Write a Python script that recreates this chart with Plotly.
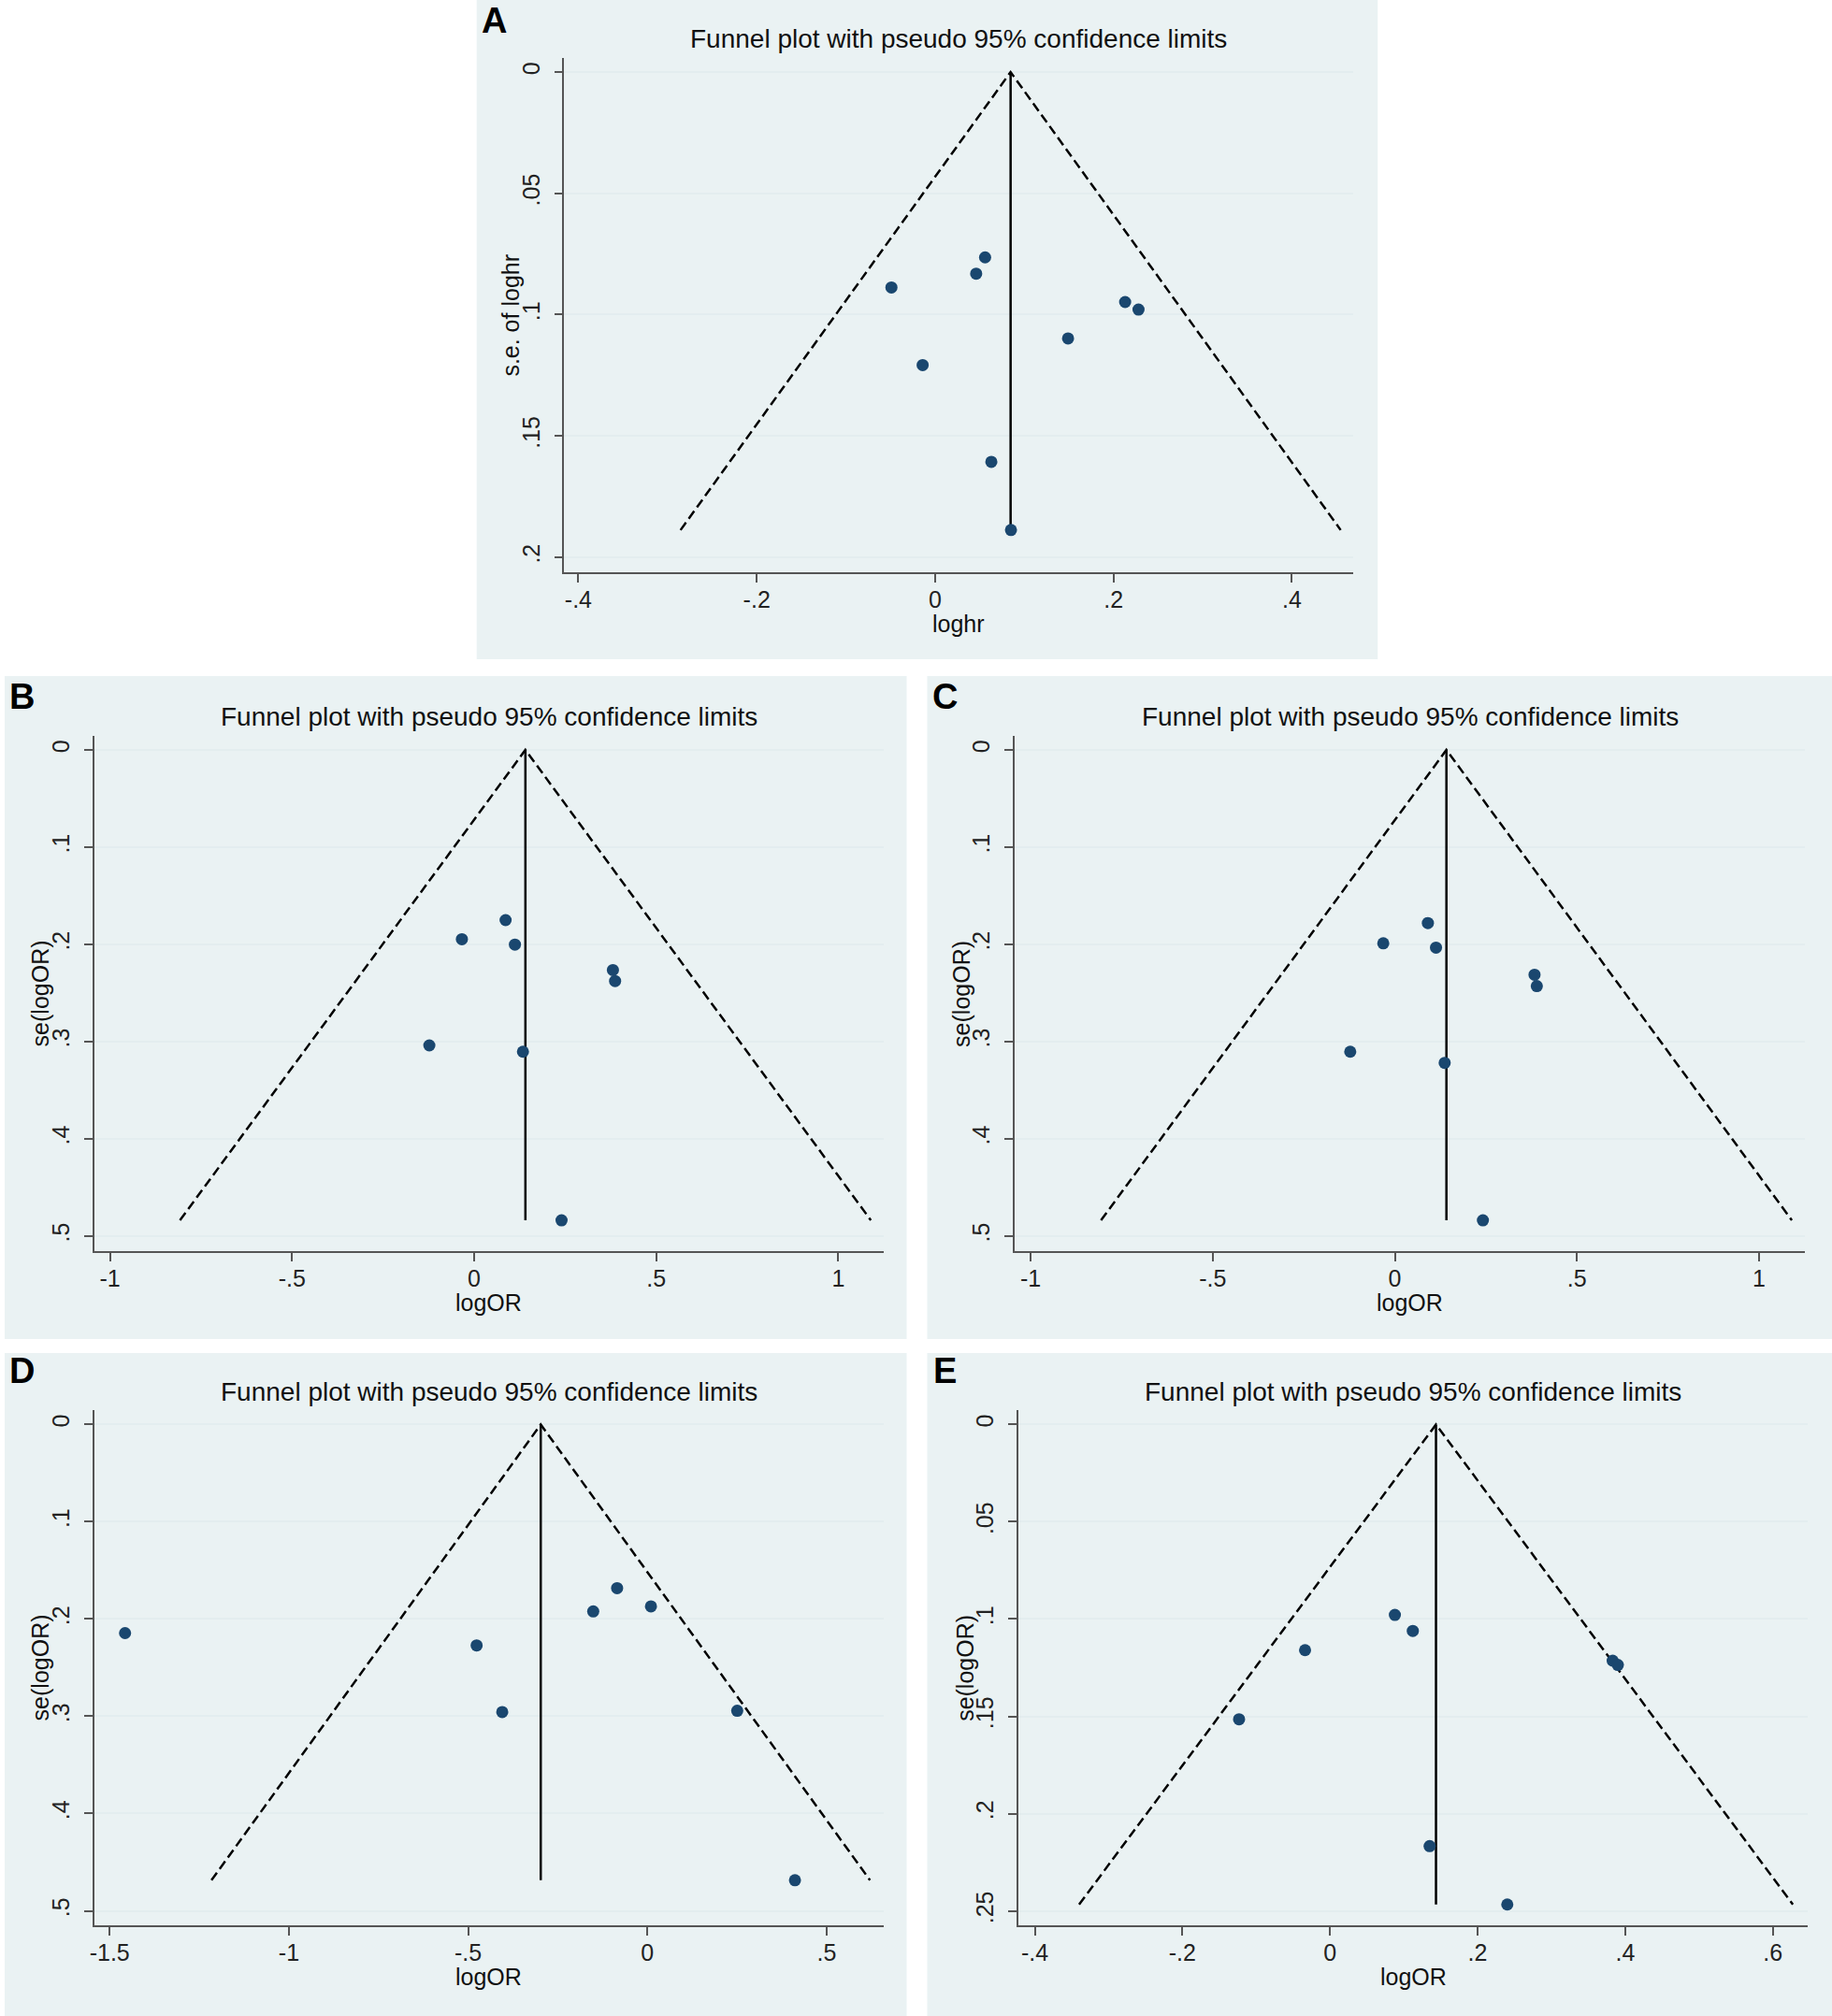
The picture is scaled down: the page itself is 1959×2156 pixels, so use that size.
import plotly.graph_objects as go

W, H = 1959, 2156

# --- data ---
# A: log hazard ratio
a_est = [0.056, 0.046, -0.049, 0.213, 0.228, 0.149, -0.014, 0.063, 0.085]
a_se = [0.0764, 0.0831, 0.0888, 0.0948, 0.0979, 0.1098, 0.1208, 0.1607, 0.1888]
a_pooled = 0.0846

# B: log odds ratio
b_est = [0.0864, -0.0336, 0.112, 0.381, 0.387, -0.123, 0.134, 0.240]
b_se = [0.1751, 0.1947, 0.2003, 0.2265, 0.2378, 0.304, 0.3105, 0.4839]
b_pooled = 0.1408

# C
c_est = [0.0907, -0.0318, 0.113, 0.3835, 0.3898, -0.1225, 0.1368, 0.2418]
c_se = [0.1781, 0.199, 0.2034, 0.2313, 0.243, 0.3105, 0.3219, 0.4839]
c_pooled = 0.1416

# D
d_est = [-1.457, -0.4764, -0.405, -0.1512, -0.0846, 0.0098, 0.2504, 0.4114]
d_se = [0.2145, 0.2271, 0.2956, 0.1922, 0.1683, 0.187, 0.2943, 0.4686]
d_pooled = -0.2976

# E
e_est = [0.0879, 0.1122, -0.0338, 0.383, 0.390, -0.1232, 0.135, 0.2402]
e_se = [0.0979, 0.1061, 0.116, 0.1214, 0.1236, 0.1515, 0.2167, 0.2467]
e_pooled = 0.1436

# tick labels (Stata style)
x_ticks_a = [-0.4, -0.2, 0, 0.2, 0.4]
x_text_a = ["-.4", "-.2", "0", ".2", ".4"]
y_ticks_a = [0, 0.05, 0.1, 0.15, 0.2]
y_text_a = ["0", ".05", ".1", ".15", ".2"]

x_ticks_bc = [-1, -0.5, 0, 0.5, 1]
x_text_bc = ["-1", "-.5", "0", ".5", "1"]
y_ticks_or = [0, 0.1, 0.2, 0.3, 0.4, 0.5]
y_text_or = ["0", ".1", ".2", ".3", ".4", ".5"]

x_ticks_d = [-1.5, -1, -0.5, 0, 0.5]
x_text_d = ["-1.5", "-1", "-.5", "0", ".5"]

x_ticks_e = [-0.4, -0.2, 0, 0.2, 0.4, 0.6]
x_text_e = ["-.4", "-.2", "0", ".2", ".4", ".6"]
y_ticks_e = [0, 0.05, 0.1, 0.15, 0.2, 0.25]
y_text_e = ["0", ".05", ".1", ".15", ".2", ".25"]

TITLE = "Funnel plot with pseudo 95% confidence limits"

BG = "#EAF2F3"
GRID = "#E3EDEF"
NAVY = "#1A476F"
AXIS = "#555555"
FONT = "Liberation Sans, Arial, sans-serif"


def px_x(p):
    return p / W


def px_y(p):
    return 1 - p / H


# layout of each panel in pixels: background box, plot box, axis ranges
panels = [
    dict(letter="A", est=a_est, se=a_se, pooled=a_pooled,
         bg=(506, 0, 1472, 705), box=(600, 62, 1446, 612),
         xr=[-0.4157, 0.469], yr=[0.2062, -0.0058],
         xt=x_ticks_a, xtt=x_text_a, yt=y_ticks_a, ytt=y_text_a,
         xlab="loghr", ylab="s.e. of loghr"),
    dict(letter="B", est=b_est, se=b_se, pooled=b_pooled,
         bg=(0, 723, 967, 1432), box=(96, 787, 942, 1338),
         xr=[-1.043, 1.1235], yr=[0.5156, -0.0144],
         xt=x_ticks_bc, xtt=x_text_bc, yt=y_ticks_or, ytt=y_text_or,
         xlab="logOR", ylab="se(logOR)"),
    dict(letter="C", est=c_est, se=c_se, pooled=c_pooled,
         bg=(989, 723, 1959, 1432), box=(1083, 787, 1930, 1338),
         xr=[-1.0433, 1.126], yr=[0.5156, -0.0144],
         xt=x_ticks_bc, xtt=x_text_bc, yt=y_ticks_or, ytt=y_text_or,
         xlab="logOR", ylab="se(logOR)"),
    dict(letter="D", est=d_est, se=d_se, pooled=d_pooled,
         bg=(0, 1447, 967, 2156), box=(96, 1508, 942, 2059),
         xr=[-1.543, 0.658], yr=[0.5149, -0.0148],
         xt=x_ticks_d, xtt=x_text_d, yt=y_ticks_or, ytt=y_text_or,
         xlab="logOR", ylab="se(logOR)"),
    dict(letter="E", est=e_est, se=e_se, pooled=e_pooled,
         bg=(989, 1447, 1959, 2156), box=(1087, 1508, 1933, 2059),
         xr=[-0.4219, 0.6473], yr=[0.2574, -0.0074],
         xt=x_ticks_e, xtt=x_text_e, yt=y_ticks_e, ytt=y_text_e,
         xlab="logOR", ylab="se(logOR)"),
]

fig = go.Figure()
shapes = []
annotations = []

for i, p in enumerate(panels):
    n = "" if i == 0 else str(i + 1)
    xa, ya = "x" + n, "y" + n
    x0, y0, x1, y1 = p["box"]
    smax = max(p["se"])
    c = p["pooled"]

    # pseudo 95% limits
    fig.add_trace(go.Scatter(
        x=[c - 1.96 * smax, c, c + 1.96 * smax], y=[smax, 0, smax],
        mode="lines", line=dict(color="black", width=2.5, dash="10px,5px"),
        xaxis=xa, yaxis=ya, hoverinfo="skip", showlegend=False))
    # pooled estimate
    fig.add_trace(go.Scatter(
        x=[c, c], y=[0, smax], mode="lines",
        line=dict(color="black", width=2.5),
        xaxis=xa, yaxis=ya, hoverinfo="skip", showlegend=False))
    # studies
    fig.add_trace(go.Scatter(
        x=p["est"], y=p["se"], mode="markers",
        marker=dict(color=NAVY, size=13),
        xaxis=xa, yaxis=ya, showlegend=False))

    axfont = dict(family=FONT, size=25, color="#222")
    fig.update_layout({
        "xaxis" + n: dict(
            domain=[px_x(x0), px_x(x1)], anchor=ya, range=p["xr"],
            tickvals=p["xt"], ticktext=p["xtt"], showgrid=False,
            zeroline=False, showline=True, linecolor=AXIS, linewidth=1.5,
            ticks="outside", ticklen=9, tickcolor=AXIS, tickwidth=1.5,
            tickfont=axfont, ticklabelstandoff=-3),
        "yaxis" + n: dict(
            domain=[px_y(y1), px_y(y0)], anchor=xa, range=p["yr"],
            tickvals=p["yt"], ticktext=p["ytt"], showgrid=True,
            gridcolor=GRID, gridwidth=2, zeroline=False, showline=True,
            linecolor=AXIS, linewidth=1.5, ticks="outside", ticklen=9,
            tickcolor=AXIS, tickwidth=1.5, tickangle=-90,
            tickfont=axfont, ticklabelstandoff=6),
    })

    bx0, by0, bx1, by1 = p["bg"]
    shapes.append(dict(type="rect", xref="paper", yref="paper",
                       x0=px_x(bx0), x1=px_x(bx1), y0=px_y(by1), y1=px_y(by0),
                       fillcolor=BG, line=dict(width=0), layer="below"))

    cx = (x0 + x1) / 2
    cy = (y0 + y1) / 2
    annotations += [
        dict(text=p["letter"], x=px_x(bx0 + 19), y=px_y(max(y0 - 42, 22)),
             font=dict(family=FONT, size=38, color="black", weight="bold")),
        dict(text=TITLE, x=px_x(cx), y=px_y(y0 - 20),
             font=dict(family=FONT, size=28, color="#111")),
        dict(text=p["xlab"], x=px_x(cx), y=px_y(y1 + 55),
             font=dict(family=FONT, size=25, color="#111")),
        dict(text=p["ylab"], x=px_x(x0 - 58), y=px_y(cy), textangle=-90,
             font=dict(family=FONT, size=25, color="#111")),
    ]

for a in annotations:
    a.update(xref="paper", yref="paper", showarrow=False,
             xanchor="center", yanchor="middle")

fig.update_layout(
    width=W, height=H, margin=dict(l=0, r=0, t=0, b=0),
    paper_bgcolor="white", plot_bgcolor="white",
    shapes=shapes, annotations=annotations, showlegend=False,
)

# drop the browser's default body margin so the figure sits at the page corner
fig.write_html("out.html", config={"displayModeBar": False},
               post_script="document.body.style.margin='0';"
                           "document.body.style.overflow='hidden';")
